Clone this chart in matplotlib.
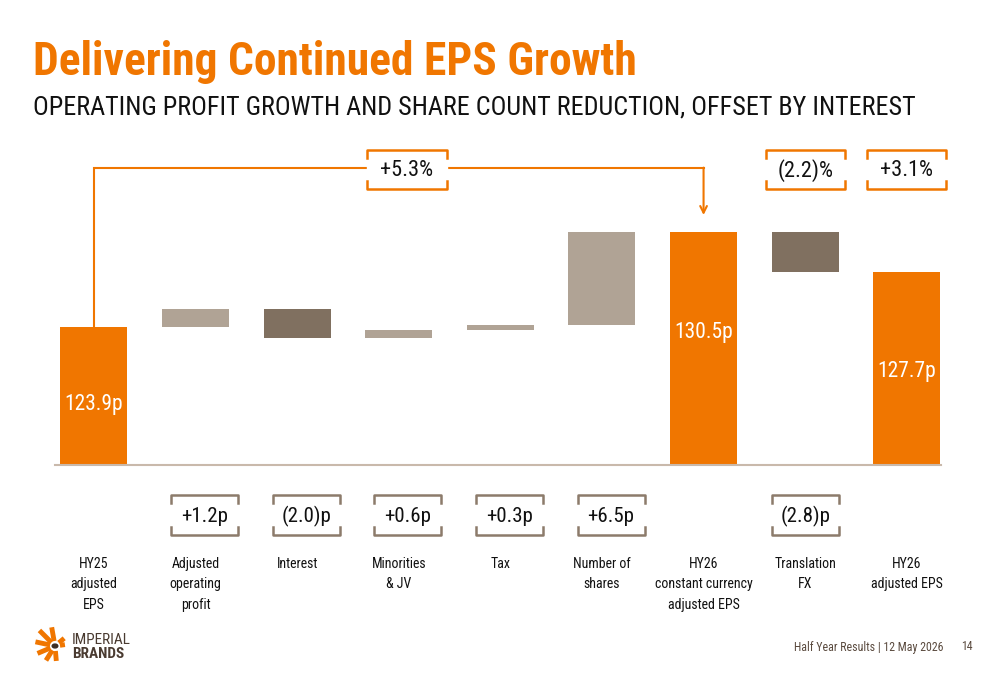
import numpy as np
import matplotlib
matplotlib.use('Agg')
import matplotlib.pyplot as plt
from matplotlib import transforms
from matplotlib import font_manager as fm

# pick a narrow sans close to Arial Narrow
have = set(f.name for f in fm.fontManager.ttflist)
narrow = [n for n in ['Arial Narrow', 'Liberation Sans Narrow', 'Roboto Condensed',
                      'Archivo Narrow', 'PT Sans Narrow', 'Pragati Narrow',
                      'Fira Sans Condensed', 'IBM Plex Sans Condensed'] if n in have]
NARROW = narrow[0] if narrow else 'Liberation Sans'
plt.rcParams['font.family'] = [NARROW, 'Liberation Sans', 'DejaVu Sans']

# waterfall data
categories = ['HY25\nadjusted\nEPS', 'Adjusted\noperating\nprofit', 'Interest',
              'Minorities\n& JV', 'Tax', 'Number of\nshares',
              'HY26\nconstant currency\nadjusted EPS', 'Translation\nFX',
              'HY26\nadjusted EPS']
start_eps = 123.9
bridge = [1.2, -2.0, 0.6, 0.3, 6.5]
cc_eps = 130.5
fx = -2.8
final_eps = 127.7
change_labels = ['+1.2p', '(2.0)p', '+0.6p', '+0.3p', '+6.5p', None, '(2.8)p']
total_labels = {0: '123.9p', 6: '130.5p', 8: '127.7p'}
growth_labels = ['+5.3%', '(2.2)%', '+3.1%']

ORANGE = '#F07600'
LIGHT = '#B0A395'
DARK = '#807060'
BROWN = '#8C7B6B'

W, H = 1000, 685
fig = plt.figure(figsize=(W / 100, H / 100), dpi=100)

def fy(p):
    return 1 - p / H

floor = 114.3
ax = fig.add_axes([40 / W, fy(465), 920 / W, (465 - 140) / H])
ax.set_xlim(-0.531, 8.524)
ax.set_ylim(floor, 136.87)
ax.axis('off')

bw = 0.66
x = np.arange(len(categories))

# totals
for i, v in [(0, start_eps), (6, cc_eps), (8, final_eps)]:
    ax.bar(x[i], v - floor, bottom=floor, width=bw, color=ORANGE, zorder=2)

# steps
level = start_eps
for k, d in enumerate(bridge):
    i = k + 1
    ax.bar(x[i], abs(d), bottom=min(level, level + d), width=bw,
           color=LIGHT if d > 0 else DARK, zorder=2)
    level += d
ax.bar(x[7], abs(fx), bottom=cc_eps + fx, width=bw, color=DARK, zorder=2)

ax.plot([-0.384, 8.34], [floor, floor], color='#C9B9AB', lw=1.5, zorder=3,
        clip_on=False)

# value labels inside total bars
offs = {0: 78, 6: 101, 8: 99}
vals = {0: start_eps, 6: cc_eps, 8: final_eps}
for i, s in total_labels.items():
    ax.annotate(s, (x[i], vals[i]), xytext=(0, -offs[i] * 0.72),
                textcoords='offset points', ha='center', va='center',
                color='white', fontsize=15.5, zorder=4)

# connector with arrow
top_y = 134.9
ax.plot([x[0], x[0], x[6]], [start_eps, top_y, top_y], color=ORANGE, lw=1.5,
        zorder=1, solid_joinstyle='miter')
ax.annotate('', xy=(x[6], 131.66), xytext=(x[6], top_y + 0.05),
            arrowprops=dict(arrowstyle='->', color=ORANGE, lw=1.5,
                            mutation_scale=12, shrinkA=0, shrinkB=0))

blend = transforms.blended_transform_factory(ax.transData, fig.transFigure)

def bracket_box(xc, half, ytop, ybot, tick, color, text, fs):
    x0, x1 = xc - half, xc + half
    # white backing to cut the connector
    ax.fill_between([x0, x1], fy(ybot), fy(ytop), color='white', transform=blend,
                    zorder=5, clip_on=False)
    ax.plot([x0, x0, x1, x1], [fy(ytop + tick), fy(ytop), fy(ytop), fy(ytop + tick)],
            color=color, lw=1.8, transform=blend, zorder=6, clip_on=False)
    ax.plot([x0, x0, x1, x1], [fy(ybot - tick), fy(ybot), fy(ybot), fy(ybot - tick)],
            color=color, lw=1.8, transform=blend, zorder=6, clip_on=False)
    ax.text(xc, fy((ytop + ybot) / 2 + 1), text, ha='center', va='center',
            fontsize=fs, transform=blend, zorder=7, color='#111111')

# growth boxes on top
for xc, s in zip([3.08, x[7], x[8]], growth_labels):
    bracket_box(xc, 0.39, 150, 189, 8, ORANGE, s, 16)

# change boxes below
box_shift = [0.09, 0.09, 0.09, 0.09, 0.09, 0, 0]
for i, s in enumerate(change_labels):
    if s:
        bracket_box(x[i + 1] + box_shift[i], 0.33, 495, 535, 8, BROWN, s, 15)

# category labels
for i, c in enumerate(categories):
    ax.text(x[i], fy(557), c, ha='center', va='top', fontsize=10,
            linespacing=1.58, transform=blend, color='#111111')

# title & subtitle
fig.text(33 / W, fy(62), 'Delivering Continued EPS Growth', fontsize=32.8,
         fontweight='bold', color=ORANGE, va='center', ha='left')
fig.text(33 / W, fy(108), 'OPERATING PROFIT GROWTH AND SHARE COUNT REDUCTION, OFFSET BY INTEREST',
         fontsize=18.8, color='#111111', va='center', ha='left')

# footer
fig.text(944 / W, fy(647), 'Half Year Results | 12 May 2026', fontsize=8.6,
         color='#5A4A3E', ha='right', va='center')
fig.text(973 / W, fy(647), '14', fontsize=8.6, color='#5A4A3E', ha='right',
         va='center')

# logo
cx, cy = 55, 646
for ang, ln in [(100, 19), (135, 22), (168, 20), (203, 19), (238, 17), (275, 15),
                (40, 12), (8, 10)]:
    a = np.deg2rad(ang)
    fig.add_artist(plt.Line2D([(cx + 5 * np.cos(a)) / W, (cx + ln * np.cos(a)) / W],
                              [fy(cy - 5 * np.sin(a)), fy(cy - ln * np.sin(a))],
                              color=ORANGE, lw=3.5, solid_capstyle='butt'))
fig.add_artist(plt.Circle((cx / W, fy(cy)), 2.8 / W, color='#3C2E25'))
fig.text(72 / W, fy(640), 'IMPERIAL', fontsize=11, color='#4A3B31', va='center',
         ha='left')
fig.text(72 / W, fy(654), 'BRANDS', fontsize=11, fontweight='bold', color='#4A3B31',
         va='center', ha='left')

fig.savefig('out.png', dpi=100, facecolor='white')
